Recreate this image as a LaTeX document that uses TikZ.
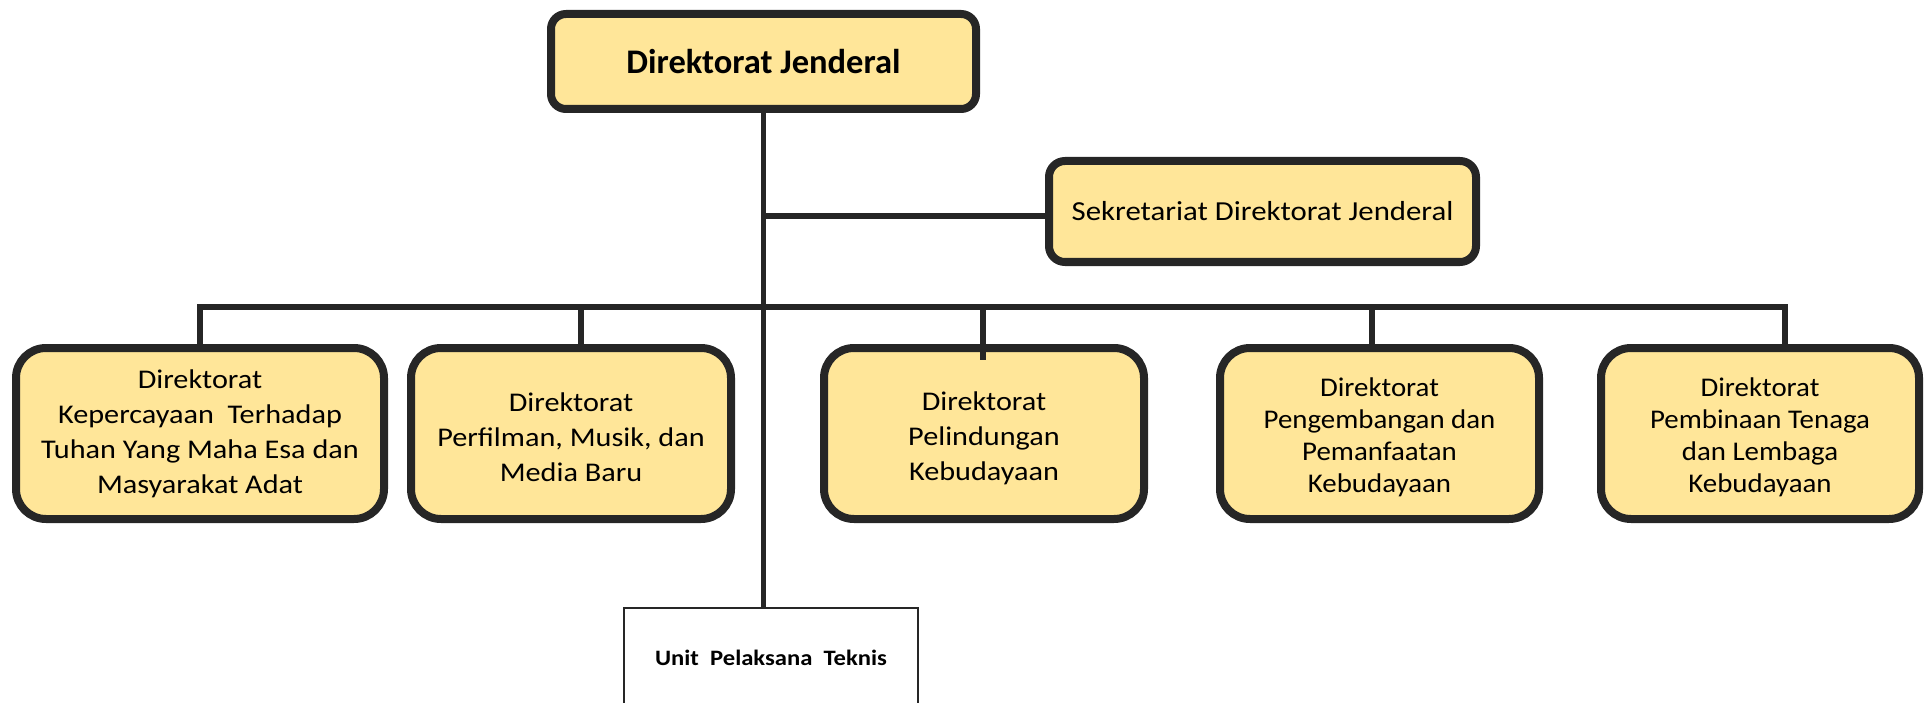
\documentclass[tikz,border=0pt]{standalone}
\usepackage{fontspec}
\setmainfont{Carlito}
\newfontfamily\widefont{Carlito}[FakeStretch=1.12]
\newfontfamily\narrowfont{Carlito}[FakeStretch=1.07]
\definecolor{boxfill}{HTML}{FFE699}
\definecolor{ink}{HTML}{262626}
\tikzset{
  unitbox/.style={draw=ink, fill=boxfill, line width=8pt, rounded corners=#1,
    align=center, inner sep=0pt},
  dirbox/.style={unitbox=30pt, minimum height=171pt,
    font=\widefont\fontsize{27}{35}\selectfont},
  dirboxtight/.style={dirbox, font=\narrowfont\fontsize{27}{32}\selectfont},
  link/.style={draw=ink, line width=5.5pt},
}
\begin{document}
\begin{tikzpicture}[x=1pt,y=-1pt]
\useasboundingbox (0,0) rectangle (1926,703);

% head office and secretariat
\node[unitbox=15pt, minimum width=425pt, minimum height=95pt,
  font=\bfseries\fontsize{34.5}{40}\selectfont] (dj) at (763.5,61.5) {Direktorat Jenderal};
\node[unitbox=16pt, minimum width=427pt, minimum height=101pt,
  font=\widefont\fontsize{27.5}{35}\selectfont] (sek) at (1262.5,211.5) {Sekretariat Direktorat Jenderal};

% directorates
\node[dirbox, minimum width=368pt] (d1) at (200,433.5)
  {Direktorat\\Kepercayaan\ \ Terhadap\\Tuhan Yang Maha Esa dan\\Masyarakat Adat};
\node[dirbox, minimum width=320pt] (d2) at (571,433.5)
  {\rule{0pt}{26pt}Direktorat\\Perfilman, Musik, dan\\Media Baru};
\node[dirbox, minimum width=320pt] (d3) at (984,433.5)
  {\rule{0pt}{28pt}Direktorat\\Pelindungan\\Kebudayaan};
\node[dirboxtight, minimum width=319pt] (d4) at (1379.5,433.5)
  {\rule{0pt}{26pt}Direktorat\\Pengembangan dan\\Pemanfaatan\\Kebudayaan};
\node[dirboxtight, minimum width=318pt] (d5) at (1760,433.5)
  {\rule{0pt}{26pt}Direktorat\\Pembinaan Tenaga\\dan Lembaga\\Kebudayaan};

% technical unit
\node[draw=ink, line width=1.5pt, minimum width=294pt, minimum height=100pt,
  font=\widefont\bfseries\fontsize{22}{26}\selectfont] (upt) at (771,658)
  {Unit\ \ Pelaksana\ \ Teknis};

% bus junctions
\coordinate (j2) at (581,307);
\coordinate (j3) at (983,307);
\coordinate (j4) at (1372,307);
\coordinate (j5) at (1785,307);
\coordinate (j3end) at (983,360);

% connectors
\draw[link] (dj.south) -- (dj.south |- upt.north);
\draw[link] ([yshift=-4.5pt]dj.south |- sek.west) -- ([yshift=-4.5pt]sek.west);
\draw[link] (d1.north) |- (j5) -- (j5 |- d5.north);
\draw[link] (j2) -- (j2 |- d2.north);
\draw[link] (j3) -- (j3end);
\draw[link] (j4) -- (j4 |- d4.north);
\end{tikzpicture}
\end{document}
